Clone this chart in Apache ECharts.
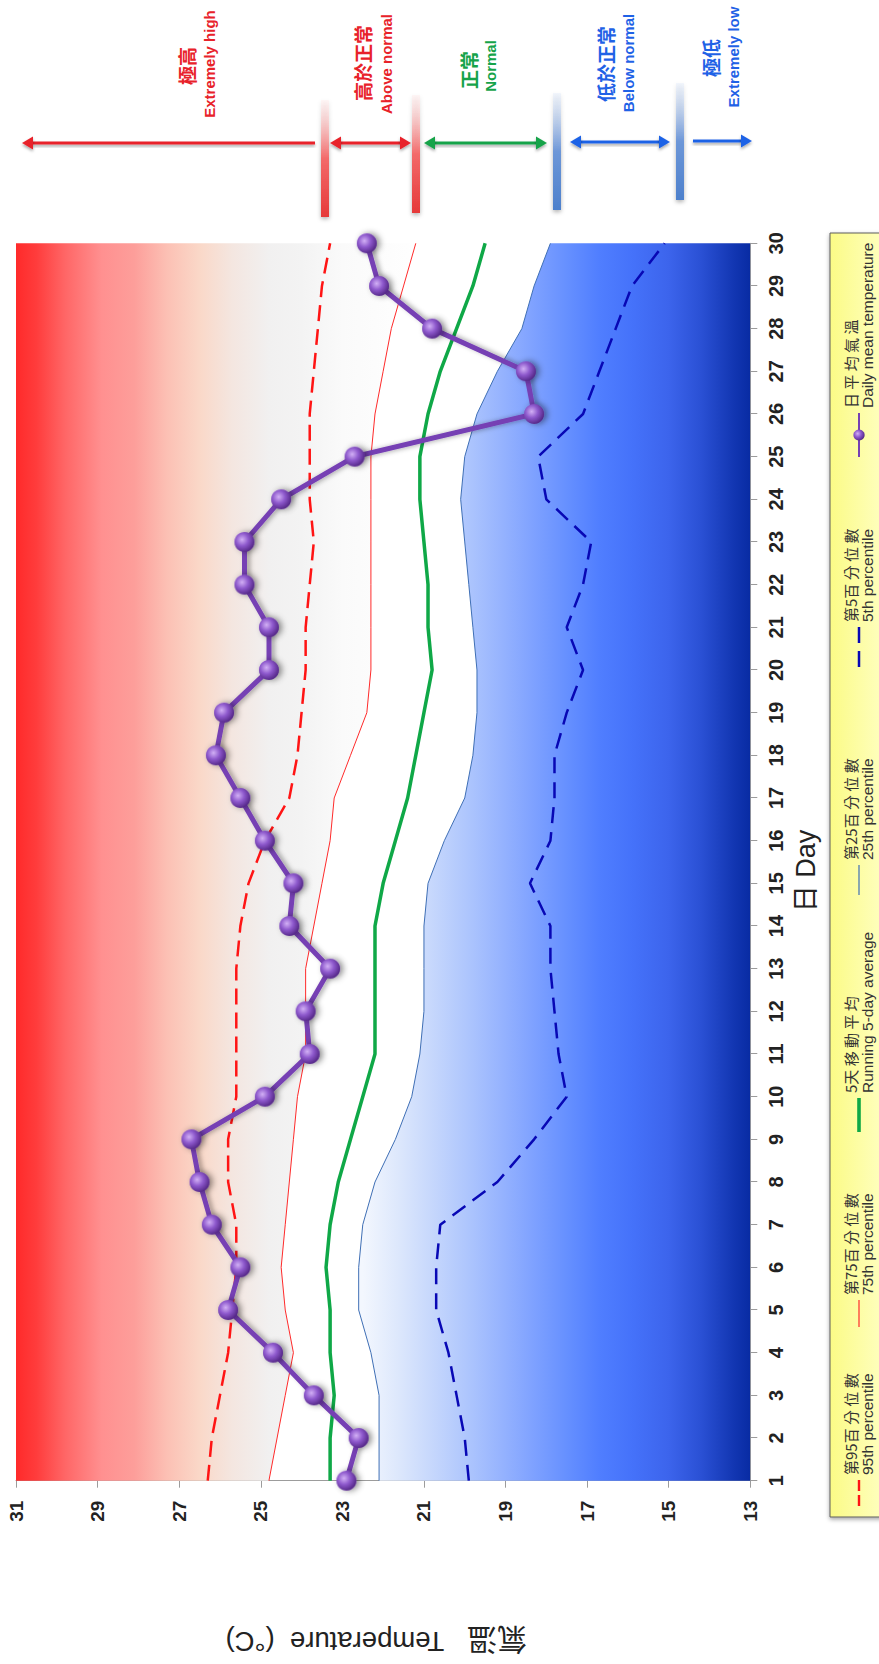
<!DOCTYPE html>
<html>
<head>
<meta charset="utf-8">
<script src="https://cdn.jsdelivr.net/npm/echarts@6.0.0/dist/echarts.min.js"></script>
<style>
html, body { margin:0; padding:0; background:#ffffff; width:879px; height:1664px; overflow:hidden; }
#chart { position:absolute; left:0; top:0; width:1664px; height:879px; transform-origin:0 0; transform:translate(0px,1664px) rotate(-90deg); background:#ffffff; }
</style>
</head>
<body>
<div id="chart"></div>
<script>
// ---------------- data ----------------
const days = ['1','2','3','4','5','6','7','8','9','10','11','12','13','14','15','16','17','18','19','20','21','22','23','24','25','26','27','28','29','30'];
const tempMin = 13, tempMax = 31, tempStep = 2;
const dailyMean = [22.9, 22.6, 23.7, 24.7, 25.8, 25.5, 26.2, 26.5, 26.7, 24.9, 23.8, 23.9, 23.3, 24.3, 24.2, 24.9, 25.5, 26.1, 25.9, 24.8, 24.8, 25.4, 25.4, 24.5, 22.7, 18.3, 18.5, 20.8, 22.1, 22.4];
const p95 = [26.3, 26.2, 26.0, 25.8, 25.7, 25.6, 25.6, 25.8, 25.8, 25.6, 25.6, 25.6, 25.6, 25.5, 25.3, 24.9, 24.3, 24.1, 24.0, 23.9, 23.9, 23.8, 23.7, 23.8, 23.8, 23.8, 23.7, 23.6, 23.5, 23.3];
const p75 = [24.8, 24.6, 24.4, 24.2, 24.4, 24.5, 24.4, 24.3, 24.2, 24.1, 23.9, 23.9, 23.9, 23.7, 23.5, 23.3, 23.2, 22.8, 22.4, 22.3, 22.3, 22.3, 22.3, 22.3, 22.3, 22.2, 22.0, 21.8, 21.5, 21.2];
const avg5 = [23.3, 23.3, 23.2, 23.3, 23.3, 23.4, 23.3, 23.1, 22.8, 22.5, 22.2, 22.2, 22.2, 22.2, 22.0, 21.7, 21.4, 21.2, 21.0, 20.8, 20.9, 20.9, 21.0, 21.1, 21.1, 20.9, 20.6, 20.2, 19.8, 19.5];
const p25 = [22.1, 22.1, 22.1, 22.3, 22.6, 22.6, 22.5, 22.2, 21.7, 21.3, 21.1, 21.0, 21.0, 21.0, 20.9, 20.5, 20.0, 19.8, 19.7, 19.7, 19.8, 19.9, 20.0, 20.1, 20.0, 19.7, 19.2, 18.6, 18.3, 17.9];
const p5 = [19.9, 20.0, 20.2, 20.4, 20.7, 20.7, 20.6, 19.2, 18.3, 17.5, 17.7, 17.8, 17.9, 17.9, 18.4, 17.9, 17.8, 17.8, 17.5, 17.1, 17.5, 17.1, 16.9, 18.0, 18.2, 17.1, 16.7, 16.3, 15.9, 15.1];
const legendEn = ['95th percentile', '75th percentile', 'Running 5-day average', '25th percentile', '5th percentile', 'Daily mean temperature'];
const legendCn = ['第95百 分 位 數', '第75百 分 位 數', '5天 移 動 平 均', '第25百 分 位 數', '第5百 分 位 數', '日 平 均 氣 溫'];
const bandCn = ['極高', '高於正常', '正常', '低於正常', '極低'];
const bandEn = ['Extremely high', 'Above normal', 'Normal', 'Below normal', 'Extremely low'];
const xAxisName = '日 Day';
const yAxisNameCn = '氣溫';
const yAxisNameEn = 'Temperature  (°C)';

// ---------------- styles / layout ----------------
function hasFont(f) {
  const c = document.createElement('canvas').getContext('2d');
  const s = 'abcdefghijklmnopqrstuvwxyz ABCDEFGHIJ';
  c.font = '20px monospace'; const a = c.measureText(s).width;
  c.font = '20px "' + f + '", monospace'; const b = c.measureText(s).width;
  return a !== b;
}
const LAT = '"Liberation Sans", Arial, "Noto Sans CJK TC", sans-serif';
const CJK = '"Noto Sans CJK TC", "Noto Sans CJK SC", sans-serif';
const narrowOK = hasFont('Liberation Sans Narrow');
const EN_LEG = narrowOK ? '"Liberation Sans Narrow", sans-serif' : '"Liberation Sans", sans-serif';
const EN_LEG_SIZE = narrowOK ? 18 : 15.5;

const redStops = [[31, '#ff2a2a'], [30.5, '#ff3c3c'], [29.8, '#ff6666'], [28.9, '#ff9090'], [28.1, '#fd9e9a'], [27.3, '#fcc0b4'], [26.5, '#fad8c8'], [25.7, '#f4e6e0'], [24.8, '#f1f0f0'], [24.0, '#f3f3f3'], [23.0, '#fafafa'], [21, '#ffffff']];
const blueStops = [[22.5, '#f3f7fe'], [21.6, '#dce7fc'], [20.8, '#c6d7fc'], [19.9, '#adc5fd'], [19.1, '#96b3fe'], [18.3, '#7ea1ff'], [17.5, '#6690ff'], [16.7, '#507eff'], [15.9, '#4572fa'], [15.0, '#3c64ec'], [14.2, '#2a50d4'], [13.4, '#1236b2'], [13, '#082ba3']];

const legendLeft = [158, 337, 532, 769, 997, 1206];
const legendIconW = [26, 27, 34, 30, 40, 44];
const legendIcons = [
  'path://M0,0H11V2.4H0Z M15,0H26V2.4H15Z',
  'path://M0,0H27V1.2H0Z',
  'path://M0,0H34V3.6H0Z',
  'path://M0,0H30V1.2H0Z',
  'path://M0,0H16V2.5H0Z M24,0H40V2.5H24Z',
  null
];

const lineColors = ['#ff1414', '#ff2a2a', '#0fa847', '#3f6fb5', '#0808b5', '#7641b4'];

const sphere = {
  type: 'radial', x: 0.62, y: 0.38, r: 0.7,
  colorStops: [{offset: 0, color: '#d2b0f5'}, {offset: 0.45, color: '#8d58cc'}, {offset: 1, color: '#4b1f7c'}]
};

const shadowLine = {shadowColor: 'rgba(0,0,0,0.35)', shadowBlur: 3, shadowOffsetX: -2, shadowOffsetY: 0};

function arrow(x, yA, yB, color, headA, headB) {
  const hl = 11, hw = 6.5, els = [];
  const s = headA ? yA + hl - 1 : yA, e = headB ? yB - hl + 1 : yB;
  els.push({type: 'rect', silent: true, z: 10, shape: {x: x - 1.5, y: s, width: 3, height: e - s},
    style: Object.assign({fill: color}, shadowLine)});
  if (headA) els.push({type: 'polygon', silent: true, z: 10, shape: {points: [[x, yA], [x - hw, yA + hl], [x + hw, yA + hl]]}, style: Object.assign({fill: color}, shadowLine)});
  if (headB) els.push({type: 'polygon', silent: true, z: 10, shape: {points: [[x, yB], [x - hw, yB - hl], [x + hw, yB - hl]]}, style: Object.assign({fill: color}, shadowLine)});
  return els;
}
function bar(x1, x2, y, c1, c2, c3) {
  return {type: 'rect', silent: true, z: 10, shape: {x: x1, y: y - 4, width: x2 - x1, height: 8},
    style: {fill: {type: 'linear', x: 0, y: 0, x2: 1, y2: 0, colorStops: [{offset: 0, color: c1}, {offset: 0.5, color: c2}, {offset: 1, color: c3}]},
      shadowColor: 'rgba(0,0,0,0.3)', shadowBlur: 4, shadowOffsetX: -2}};
}
function label(text, x, y, color, font) {
  return {type: 'text', silent: true, z: 10, x: x, y: y,
    style: {text: text, fill: color, font: font, align: 'center', verticalAlign: 'middle', textAlign: 'center', textVerticalAlign: 'middle'}};
}

const RED = '#e8222a', GREEN = '#16a34a', BLUE = '#1f62e6';
const graphics = [
  {type: 'rect', silent: true, z: 0, shape: {x: 147, y: 830, width: 1284, height: 60},
   style: {fill: {type: 'linear', x: 0, y: 0, x2: 0, y2: 1, colorStops: [{offset: 0, color: '#fbfb86'}, {offset: 1, color: '#ffffc6'}]},
     stroke: '#5c5c5c', lineWidth: 1, shadowColor: 'rgba(0,0,0,0.35)', shadowBlur: 4, shadowOffsetX: -2}},
  bar(1447, 1564, 325, '#e63a3a', '#f36a6a', 'rgba(255,220,220,0.25)'),
  bar(1451, 1569, 416, '#e63a3a', '#f36a6a', 'rgba(255,220,220,0.25)'),
  bar(1454, 1571, 557, '#4d80cc', '#6d97d8', 'rgba(205,220,245,0.25)'),
  bar(1464, 1581, 680, '#4d80cc', '#6d97d8', 'rgba(205,220,245,0.25)'),
  ...arrow(1521, 22, 315, RED, true, false),
  ...arrow(1521, 330, 411, RED, true, true),
  ...arrow(1521, 424, 547, GREEN, true, true),
  ...arrow(1522, 570, 670, BLUE, true, true),
  ...arrow(1523, 693, 752, BLUE, false, true),
  label(bandCn[0], 1598, 186, RED, 'bold 19px ' + CJK),
  label(bandEn[0], 1600, 209, RED, 'bold 15px ' + LAT),
  label(bandCn[1], 1601, 362, RED, 'bold 19px ' + CJK),
  label(bandEn[1], 1600, 386, RED, 'bold 15px ' + LAT),
  label(bandCn[2], 1594, 468, GREEN, 'bold 19px ' + CJK),
  label(bandEn[2], 1598, 490, GREEN, 'bold 15px ' + LAT),
  label(bandCn[3], 1600, 605, BLUE, 'bold 19px ' + CJK),
  label(bandEn[3], 1601, 628, BLUE, 'bold 15px ' + LAT),
  label(bandCn[4], 1606, 710, BLUE, 'bold 19px ' + CJK),
  label(bandEn[4], 1607, 733, BLUE, 'bold 15px ' + LAT)
];

const lineSeries = [p95, p75, avg5, p25, p5];
const lineWidths = [2.5, 1, 3.5, 1, 2.5];
const lineTypes = [[16, 8], 'solid', 'solid', 'solid', [16, 9]];

const series = [
  {id: 'area75', type: 'line', data: p75, symbol: 'none', silent: true, z: 1,
   lineStyle: {width: 0, opacity: 0}, areaStyle: {origin: 'end', opacity: 1, color: '#f4c4c0'}},
  {id: 'area25', type: 'line', data: p25, symbol: 'none', silent: true, z: 1,
   lineStyle: {width: 0, opacity: 0}, areaStyle: {origin: 'start', opacity: 1, color: '#6690ff'}}
];
lineSeries.forEach((d, i) => {
  series.push({name: legendEn[i], type: 'line', data: d, symbol: 'none', silent: true, z: 3,
    lineStyle: {color: lineColors[i], width: lineWidths[i], type: lineTypes[i]}, itemStyle: {color: lineColors[i]}});
});
series.push({name: legendEn[5], type: 'line', data: dailyMean, symbol: 'circle', symbolSize: 20, silent: true, z: 5,
  lineStyle: {color: lineColors[5], width: 5, shadowColor: 'rgba(0,0,0,0.35)', shadowBlur: 5, shadowOffsetY: 3},
  itemStyle: {color: sphere, shadowColor: 'rgba(0,0,0,0.45)', shadowBlur: 6, shadowOffsetY: 3}});

const legends = legendEn.map((n, i) => {
  const item = {name: n};
  if (legendIcons[i]) item.icon = legendIcons[i];
  return {
    data: [item], left: legendLeft[i], top: 843, padding: 0, itemGap: 0,
    itemWidth: legendIconW[i], itemHeight: 14, selectedMode: false, symbolKeepAspect: true,
    formatter: () => '{cn|' + legendCn[i] + '}\n{en|' + n + '}',
    textStyle: {rich: {
      cn: {fontFamily: CJK, fontSize: 15, lineHeight: 17, color: '#333333'},
      en: {fontFamily: EN_LEG, fontSize: EN_LEG_SIZE, lineHeight: 17, color: '#333333'}
    }}
  };
});

const axisGray = '#9c9c9c';
const option = {
  animation: false,
  backgroundColor: '#ffffff',
  grid: {left: 183.3, right: 243.3, top: 16, bottom: 128.7, outerBoundsMode: 'none', containLabel: false},
  xAxis: {
    type: 'category', data: days, boundaryGap: false,
    axisLine: {show: true, lineStyle: {color: axisGray, width: 1}},
    axisTick: {show: true, interval: 0, length: 7, lineStyle: {color: axisGray}},
    axisLabel: {interval: 0, margin: 16, fontSize: 20, fontWeight: 'bold', color: '#222222', fontFamily: LAT},
    splitLine: {show: false},
    name: xAxisName, nameLocation: 'middle', nameGap: 42,
    nameTextStyle: {fontSize: 27, color: '#222222', fontFamily: LAT, padding: [0, 18, 0, 0]}
  },
  yAxis: {
    type: 'value', min: tempMin, max: tempMax, interval: tempStep,
    axisLine: {show: true, lineStyle: {color: axisGray, width: 1}},
    axisTick: {show: true, length: 7, lineStyle: {color: axisGray}},
    axisLabel: {margin: 20, fontSize: 19, fontWeight: 'bold', color: '#222222', fontFamily: LAT},
    splitLine: {show: false},
    name: '{cn|' + yAxisNameCn + '}   ' + yAxisNameEn, nameLocation: 'middle', nameGap: 146, nameRotate: 90,
    nameTextStyle: {fontSize: 27.5, color: '#222222', fontFamily: LAT, padding: [0, 0, 0, 14],
      rich: {cn: {fontSize: 30, fontFamily: CJK, color: '#222222'}}}
  },
  legend: legends,
  graphic: graphics,
  series: series
};

const chart = echarts.init(document.getElementById('chart'), null, {renderer: 'svg', width: 1664, height: 879});
chart.setOption(option);
const yPix = t => chart.convertToPixel({yAxisIndex: 0}, t);
function grad(stops) {
  const y0 = yPix(stops[0][0]), y1 = yPix(stops[stops.length - 1][0]);
  return {type: 'linear', x: 0, y: y0, x2: 0, y2: y1, global: true,
    colorStops: stops.map(s => ({offset: Math.min(1, Math.max(0, (yPix(s[0]) - y0) / (y1 - y0))), color: s[1]}))};
}
chart.setOption({series: [{id: 'area75', areaStyle: {color: grad(redStops)}}, {id: 'area25', areaStyle: {color: grad(blueStops)}}]});
</script>
</body>
</html>
